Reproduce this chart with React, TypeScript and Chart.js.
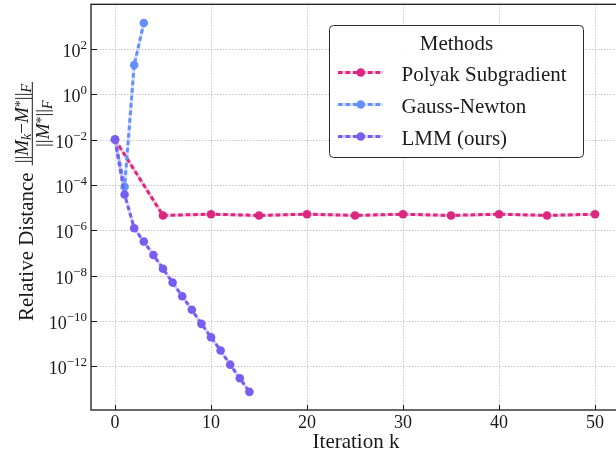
import React, { useEffect, useRef } from "react";
import { Chart, registerables } from "chart.js";

Chart.register(...registerables);

// ---------- data ----------
const polyakIters = [0, 5, 10, 15, 20, 25, 30, 35, 40, 45, 50];
const polyakValues = [1e-2, 4.5e-6, 5.1e-6, 4.5e-6, 5.1e-6, 4.5e-6, 5.1e-6, 4.5e-6, 5.1e-6, 4.5e-6, 5.1e-6];

const gaussNewtonIters = [0, 1, 2, 3];
const gaussNewtonValues = [1e-2, 8.3e-5, 19.5, 1380];

const lmmIters = [0, 1, 2, 3, 4, 5, 6, 7, 8, 9, 10, 11, 12, 13, 14];
const lmmValues = [
  1e-2, 3.8e-5, 1.23e-6, 3.16e-7, 8.1e-8, 2.0e-8, 4.9e-9, 1.23e-9, 3.1e-10,
  7.4e-11, 1.9e-11, 4.9e-12, 1.17e-12, 2.95e-13, 7.4e-14,
];

const xTicks = [0, 10, 20, 30, 40, 50];
const yTickExponents = [2, 0, -2, -4, -6, -8, -10, -12];

const seriesNames = ["Polyak Subgradient", "Gauss-Newton", "LMM (ours)"];
const seriesColors = ["#DC267F", "#648FFF", "#785EF0"];
const seriesPale = ["rgba(220,38,127,0.3)", "rgba(100,143,255,0.3)", "rgba(120,94,240,0.3)"];

const X_MIN = -2.5;
const X_MAX = 52.5;
const Y_MIN = 1.17e-14;
const Y_MAX = 9.3e3;

const SERIF = '"Liberation Serif", "Times New Roman", serif';
const INK = "#1a1a1a";

type Seg = { t: string; it?: boolean; sub?: boolean; sup?: boolean };

function segFont(s: Seg, main: number, script: number) {
  return `${s.it ? "italic " : ""}${s.sub || s.sup ? script : main}px ${SERIF}`;
}
function segsWidth(ctx: CanvasRenderingContext2D, segs: Seg[], main: number, script: number) {
  let w = 0;
  for (const s of segs) {
    ctx.font = segFont(s, main, script);
    w += ctx.measureText(s.t).width;
  }
  return w;
}
function drawSegs(ctx: CanvasRenderingContext2D, segs: Seg[], x: number, y: number, main: number, script: number) {
  let cx = x;
  for (const s of segs) {
    ctx.font = segFont(s, main, script);
    const dy = s.sub ? 3.5 : s.sup ? -3 : 0;
    ctx.fillText(s.t, cx, y + dy);
    cx += ctx.measureText(s.t).width;
  }
}

const numerator: Seg[] = [
  { t: "||" }, { t: "M", it: true }, { t: "k", it: true, sub: true }, { t: "−" },
  { t: "M", it: true }, { t: "*", sup: true }, { t: "||" }, { t: "F", it: true, sub: true },
];
const denominator: Seg[] = [
  { t: "||" }, { t: "M", it: true }, { t: "*", sup: true }, { t: "||" }, { t: "F", it: true, sub: true },
];

const decorPlugin = {
  id: "decor",
  beforeDatasetsDraw(chart: any) {
    const { ctx, chartArea: a, scales } = chart;
    const x = scales.x, y = scales.y;
    ctx.save();
    ctx.strokeStyle = "rgba(0,0,0,0.22)";
    ctx.lineWidth = 1;
    ctx.setLineDash([1.5, 1.5]);
    for (const t of xTicks) {
      const px = Math.round(x.getPixelForValue(t)) + 0.5;
      ctx.beginPath(); ctx.moveTo(px, a.top); ctx.lineTo(px, a.bottom); ctx.stroke();
    }
    for (const e of yTickExponents) {
      const py = Math.round(y.getPixelForValue(Math.pow(10, e))) + 0.5;
      ctx.beginPath(); ctx.moveTo(a.left, py); ctx.lineTo(a.right, py); ctx.stroke();
    }
    ctx.setLineDash([]);
    // pale connecting lines under dashed lines
    ctx.beginPath(); ctx.rect(a.left, a.top, a.right - a.left, a.bottom - a.top); ctx.clip();
    chart.data.datasets.forEach((ds: any, i: number) => {
      const meta = chart.getDatasetMeta(i);
      ctx.beginPath();
      meta.data.forEach((p: any, j: number) => (j ? ctx.lineTo(p.x, p.y) : ctx.moveTo(p.x, p.y)));
      ctx.strokeStyle = ds.paleColor;
      ctx.lineWidth = 3;
      ctx.stroke();
    });
    ctx.restore();
  },
  afterDraw(chart: any) {
    const { ctx, chartArea: a, scales } = chart;
    const x = scales.x, y = scales.y;
    ctx.save();
    // frame
    ctx.strokeStyle = INK;
    ctx.lineWidth = 1.3;
    ctx.strokeRect(a.left, a.top, a.right - a.left, a.bottom - a.top);
    // inward ticks
    ctx.lineWidth = 1;
    for (const t of xTicks) {
      const px = Math.round(x.getPixelForValue(t)) + 0.5;
      ctx.beginPath(); ctx.moveTo(px, a.bottom); ctx.lineTo(px, a.bottom - 5); ctx.stroke();
    }
    for (const e of yTickExponents) {
      const py = Math.round(y.getPixelForValue(Math.pow(10, e))) + 0.5;
      ctx.beginPath(); ctx.moveTo(a.left, py); ctx.lineTo(a.left + 6, py); ctx.stroke();
    }
    // tick labels
    ctx.fillStyle = INK;
    ctx.textBaseline = "alphabetic";
    ctx.font = `18px ${SERIF}`;
    ctx.textAlign = "center";
    for (const t of xTicks) {
      ctx.fillText(String(t), x.getPixelForValue(t), a.bottom + 18);
    }
    ctx.textAlign = "left";
    for (const e of yTickExponents) {
      const py = y.getPixelForValue(Math.pow(10, e));
      const expStr = e < 0 ? "−" + Math.abs(e) : String(e);
      ctx.font = `13px ${SERIF}`;
      const ew = ctx.measureText(expStr).width;
      ctx.font = `18px ${SERIF}`;
      const bw = ctx.measureText("10").width;
      const right = a.left - 4;
      ctx.fillText("10", right - ew - bw, py + 8);
      ctx.font = `13px ${SERIF}`;
      ctx.fillText(expStr, right - ew, py - 0);
    }
    // x title
    ctx.font = `21px ${SERIF}`;
    ctx.textAlign = "center";
    ctx.fillText("Iteration k", (a.left + a.right) / 2 + 1, 448);
    // y title (rotated)
    ctx.save();
    ctx.textAlign = "left";
    ctx.font = `21px ${SERIF}`;
    const label = "Relative Distance";
    const lw = ctx.measureText(label).width;
    const main = 19, script = 14;
    const nw = segsWidth(ctx, numerator, main, script);
    const dw = segsWidth(ctx, denominator, main, script);
    const fw = Math.max(nw, dw) + 4;
    const gap = 7;
    const total = lw + gap + fw;
    const centerY = 201.5;
    ctx.translate(33, centerY + total / 2);
    ctx.rotate(-Math.PI / 2);
    ctx.font = `21px ${SERIF}`;
    ctx.fillText(label, 0, 0);
    const fx = lw + gap;
    ctx.fillRect(fx, -1.2, fw, 1);
    drawSegs(ctx, numerator, fx + (fw - nw) / 2, -5.5, main, script);
    drawSegs(ctx, denominator, fx + (fw - dw) / 2, 15.5, main, script);
    ctx.restore();

    // legend
    const bx = 329.5, by = 25.5, bw2 = 254, bh = 132, r = 4;
    ctx.beginPath();
    ctx.moveTo(bx + r, by);
    ctx.arcTo(bx + bw2, by, bx + bw2, by + bh, r);
    ctx.arcTo(bx + bw2, by + bh, bx, by + bh, r);
    ctx.arcTo(bx, by + bh, bx, by, r);
    ctx.arcTo(bx, by, bx + bw2, by, r);
    ctx.closePath();
    ctx.fillStyle = "rgba(255,255,255,0.95)";
    ctx.fill();
    ctx.strokeStyle = "#2a2a2a";
    ctx.lineWidth = 1;
    ctx.stroke();
    ctx.fillStyle = INK;
    ctx.font = `21px ${SERIF}`;
    ctx.textAlign = "center";
    ctx.fillText("Methods", 456.5, 49.5);
    ctx.textAlign = "left";
    const rows = [72.5, 104.5, 136.5];
    rows.forEach((ry, i) => {
      ctx.strokeStyle = seriesPale[i];
      ctx.lineWidth = 3;
      ctx.setLineDash([]);
      ctx.beginPath(); ctx.moveTo(338, ry); ctx.lineTo(383, ry); ctx.stroke();
      ctx.strokeStyle = seriesColors[i];
      ctx.setLineDash([4.5, 3]);
      ctx.beginPath(); ctx.moveTo(338, ry); ctx.lineTo(383, ry); ctx.stroke();
      ctx.setLineDash([]);
      ctx.fillStyle = seriesColors[i];
      ctx.beginPath(); ctx.arc(360.7, ry, 4.3, 0, Math.PI * 2); ctx.fill();
      ctx.fillStyle = INK;
      ctx.fillText(seriesNames[i], 401.5, ry + 8.5);
    });
    ctx.restore();
  },
};

function makeDataset(i: number, iters: number[], values: number[], order: number) {
  return {
    label: seriesNames[i],
    data: iters.map((k, j) => ({ x: k, y: values[j] })),
    borderColor: seriesColors[i],
    backgroundColor: seriesColors[i],
    pointBackgroundColor: seriesColors[i],
    paleColor: seriesPale[i],
    borderWidth: 3,
    borderDash: [4.5, 3],
    borderCapStyle: "butt",
    pointRadius: 4.3,
    pointHoverRadius: 4.3,
    pointBorderWidth: 0,
    tension: 0,
    fill: false,
    order,
  };
}

export default function App() {
  const ref = useRef<HTMLCanvasElement>(null);
  useEffect(() => {
    if (!ref.current) return;
    const chart = new Chart(ref.current, {
      type: "line",
      data: {
        datasets: [
          makeDataset(0, polyakIters, polyakValues, 3),
          makeDataset(1, gaussNewtonIters, gaussNewtonValues, 2),
          makeDataset(2, lmmIters, lmmValues, 1),
        ] as any,
      },
      options: {
        responsive: false,
        animation: false,
        devicePixelRatio: 1,
        layout: { padding: { left: 91, top: 1, right: 21, bottom: 42 } },
        scales: {
          x: { type: "linear", min: X_MIN, max: X_MAX, display: false },
          y: { type: "logarithmic", min: Y_MIN, max: Y_MAX, display: false },
        },
        plugins: { legend: { display: false }, tooltip: { enabled: false } },
        events: [],
      },
      plugins: [decorPlugin],
    });
    return () => chart.destroy();
  }, []);
  return (
    <div
      style={{
        position: "fixed",
        left: 0,
        top: 0,
        width: 616,
        height: 452,
        overflow: "hidden",
        background: "#fff",
      }}
    >
      <canvas ref={ref} width={640} height={452} style={{ display: "block", width: 640, height: 452 }} />
    </div>
  );
}
